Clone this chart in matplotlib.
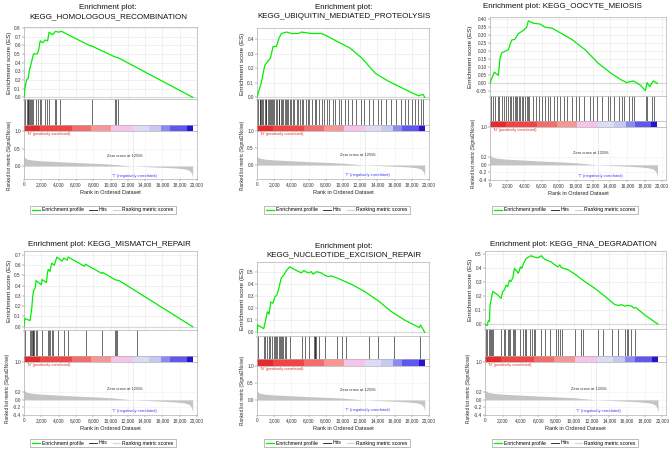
import matplotlib
matplotlib.use('Agg')
import matplotlib.pyplot as plt
from matplotlib.lines import Line2D

plt.rcParams['font.family'] = ['Liberation Sans', 'DejaVu Sans']

W, H = 669, 451

# ---------------- data ----------------
titles = [
    "Enrichment plot:\nKEGG_HOMOLOGOUS_RECOMBINATION",
    "Enrichment plot:\nKEGG_UBIQUITIN_MEDIATED_PROTEOLYSIS",
    "Enrichment plot: KEGG_OOCYTE_MEIOSIS",
    "Enrichment plot: KEGG_MISMATCH_REPAIR",
    "Enrichment plot:\nKEGG_NUCLEOTIDE_EXCISION_REPAIR",
    "Enrichment plot: KEGG_RNA_DEGRADATION",
]

hr_rank = [0, 100, 300, 500, 600, 800, 900, 1100, 1300, 1550, 1700, 1870, 2180, 2450, 2730, 2900,
           3300, 3630, 4000, 4330, 7700, 7750, 10400, 10700, 10900, 19500]
hr_es = [0, 0.1, 0.2, 0.22, 0.3, 0.38, 0.42, 0.5, 0.5, 0.5, 0.55, 0.65, 0.63, 0.66, 0.65, 0.75,
         0.72, 0.76, 0.75, 0.76, 0.59, 0.595, 0.47, 0.46, 0.455, 0]
hr_hits = [0, 117, 312, 429, 507, 624, 702, 819, 975, 1092, 1365, 1676, 1793, 1949, 2378, 2651,
           2846, 3548, 3704, 4211, 7914, 10565, 10682, 10838]

ub_rank = [0, 500, 900, 1290, 1560, 1870, 2260, 2570, 2850, 3430, 4000, 4800, 5200, 6350, 7500,
           7900, 9500, 10800, 12200, 13760, 15300, 16500, 18050, 18800, 19300, 19500]
ub_es = [0, 0.1, 0.22, 0.25, 0.27, 0.35, 0.35, 0.41, 0.44, 0.45, 0.44, 0.44, 0.45, 0.44, 0.44,
         0.43, 0.38, 0.34, 0.27, 0.165, 0.11, 0.075, 0.03, 0.01, 0.02, 0]
ub_hits = [50, 150, 300, 400, 500, 600, 750, 900, 1000, 1100, 1250, 1400, 1500, 1650, 1800, 1900,
           2000, 2200, 2350, 2500, 2600, 2750, 2900, 3000, 3200, 3350, 3500, 3600, 3800, 4000,
           4200, 4350, 4600, 4800, 5000, 5200, 5400, 5700, 5900, 6100, 6400, 6700, 6900, 7200,
           7500, 7800, 8100, 8400, 8800, 9100, 9500, 9800, 10200, 10600, 11000, 11500, 12100,
           12400, 13000, 13500, 14100, 14400, 15000, 15600, 16200, 16700, 17200, 17600, 18000,
           18400, 18700, 19100, 19300]

oo_rank = [0, 200, 500, 970, 1165, 1360, 1750, 2140, 2520, 2900, 3300, 3880, 4270, 4470, 5050,
           5830, 6400, 7200, 8350, 9500, 11070, 12620, 14170, 15340, 15920, 16700, 17480, 18100,
           18300, 18600, 19030, 19500]
oo_es = [0, 0.03, 0.07, 0.05, 0.155, 0.19, 0.2, 0.21, 0.27, 0.275, 0.31, 0.33, 0.35, 0.39, 0.375,
         0.37, 0.35, 0.345, 0.31, 0.275, 0.21, 0.125, 0.06, 0.02, 0.005, 0.015, -0.01, -0.045,
         0.005, -0.02, 0.015, 0]
oo_hits = [100, 300, 600, 900, 1100, 1400, 1600, 1900, 2100, 2300, 2500, 2700, 2900, 3000, 3200,
           3400, 3500, 3700, 3900, 4100, 4300, 4400, 4600, 5000, 5400, 5700, 6100, 6400, 6800,
           7000, 7400, 7800, 8200, 8600, 9000, 9500, 10000, 10400, 11000, 11600, 12000, 12500,
           13000, 13700, 14000, 14500, 15000, 15400, 15600, 16200, 16500, 16800, 18200, 18300,
           18900, 19100]

mm_rank = [0, 100, 700, 800, 900, 1000, 1100, 1300, 1400, 2000, 2100, 2600, 2700, 2800, 3000,
           3200, 3500, 3800, 4400, 4600, 5000, 5100, 7000, 7100, 9000, 9100, 10500, 10700, 11000,
           19500]
mm_es = [0, 0.08, 0.06, 0.12, 0.18, 0.29, 0.35, 0.38, 0.45, 0.41, 0.46, 0.43, 0.52, 0.56, 0.54,
         0.62, 0.60, 0.68, 0.64, 0.67, 0.65, 0.68, 0.59, 0.61, 0.52, 0.53, 0.46, 0.455, 0.45, 0]
mm_hits = [116, 695, 810, 927, 1004, 1081, 1197, 1351, 1467, 2123, 2741, 2896, 3012, 3205, 3320,
           3900, 4672, 5135, 7143, 8996, 10463, 10617, 10733, 13050]

ner_rank = [0, 100, 780, 970, 1200, 1400, 1600, 1860, 2060, 2330, 2520, 2830, 3100, 3420, 3800,
            4580, 5170, 5440, 5940, 6330, 6520, 6910, 7500, 7880, 8270, 8660, 9240, 10210, 11180,
            12540, 14100, 15650, 17200, 18870, 19030, 19500]
ner_es = [0, 0.06, 0.03, 0.09, 0.17, 0.15, 0.25, 0.24, 0.29, 0.31, 0.36, 0.45, 0.47, 0.51, 0.54,
          0.51, 0.49, 0.51, 0.49, 0.5, 0.48, 0.5, 0.49, 0.47, 0.46, 0.465, 0.45, 0.42, 0.39, 0.335,
          0.26, 0.17, 0.10, 0.04, 0.06, 0]
ner_hits = [116, 815, 971, 1204, 1398, 1553, 1748, 1981, 2136, 2252, 2369, 2524, 2641, 2757, 2913,
            3029, 3301, 3417, 3806, 5243, 5553, 6058, 6641, 6718, 6796, 6913, 7184, 7961, 9320,
            9903, 10291, 13049, 14097, 15961, 18951]

rna_rank = [0, 120, 230, 380, 500, 570, 680, 870, 1430, 1810, 2000, 2190, 2380, 2560, 2750, 2900,
            3130, 3320, 3620, 3770, 4000, 4150, 4340, 4640, 5020, 5210, 5580, 5960, 6340, 6720,
            7470, 7850, 8230, 8420, 8600, 9360, 10110, 11250, 12380, 13510, 14640, 15020, 15400,
            15770, 16150, 16400, 16530, 16790, 16980, 18040, 19500]
rna_es = [0, -0.005, -0.01, 0.025, 0.02, 0.14, 0.17, 0.235, 0.21, 0.185, 0.235, 0.245, 0.28, 0.27,
          0.315, 0.305, 0.33, 0.4, 0.375, 0.365, 0.41, 0.4, 0.435, 0.47, 0.485, 0.49, 0.48, 0.475,
          0.49, 0.465, 0.445, 0.425, 0.41, 0.425, 0.405, 0.39, 0.36, 0.305, 0.257, 0.2, 0.14,
          0.135, 0.14, 0.13, 0.135, 0.13, 0.13, 0.115, 0.12, 0.065, 0]
rna_hits = [113, 226, 415, 566, 679, 792, 943, 1811, 2113, 2302, 2566, 2755, 2868, 3132, 3321,
            3434, 3962, 4264, 4453, 4642, 5019, 5283, 5472, 5585, 6340, 6717, 7283, 8038, 8226,
            8415, 8717, 10113, 10868, 11057, 12755, 13321, 14264, 15019, 15774, 15962, 16151,
            16415, 16906]

metric_rank = [0, 50, 300, 1000, 2000, 4000, 6000, 8000, 10000, 12556, 14000, 16000, 17500,
               18500, 19000, 19250, 19400, 19500]
metric_val = [0.30, 0.25, 0.20, 0.17, 0.15, 0.125, 0.10, 0.08, 0.055, 0.0, -0.015, -0.035, -0.055,
              -0.08, -0.11, -0.16, -0.22, -0.34]
zero_cross = 12556

x_ticks = [0, 2000, 4000, 6000, 8000, 10000, 12000, 14000, 16000, 18000, 20000]
x_ticklabels = ["0", "2,000", "4,000", "6,000", "8,000", "10,000", "12,000", "14,000",
                "16,000", "18,000", "20,000"]

es_ticks = [
    [0.0, 0.1, 0.2, 0.3, 0.4, 0.5, 0.6, 0.7, 0.8],
    [0.0, 0.1, 0.2, 0.3, 0.4],
    [-0.05, 0.0, 0.05, 0.10, 0.15, 0.20, 0.25, 0.30, 0.35, 0.40],
    [0.0, 0.1, 0.2, 0.3, 0.4, 0.5, 0.6, 0.7],
    [0.0, 0.1, 0.2, 0.3, 0.4, 0.5],
    [0.0, 0.1, 0.2, 0.3, 0.4, 0.5],
]
rank_ticks_a = [0.0, 0.5, 1.0]
rank_ticks_b = [-0.4, -0.2, 0.0, 0.2, 1.0]

bar_edges = [0, 1850, 5500, 7800, 10100, 12600, 14400, 15800, 16900, 18800, 19500]

es_ranks = [hr_rank, ub_rank, oo_rank, mm_rank, ner_rank, rna_rank]
es_vals = [hr_es, ub_es, oo_es, mm_es, ner_es, rna_es]
hits_all = [hr_hits, ub_hits, oo_hits, mm_hits, ner_hits, rna_hits]

# ---------------- styles / layout ----------------
bar_colors = ['#e42a2a', '#ef4545', '#f46d6d', '#f89696', '#f6c4ea', '#dcdcf6', '#c8c8f6',
              '#8a8af2', '#5e58ee', '#2a12cf']

layouts = [
    dict(l=24, r=197, et=27, eb=99, hb=125, bb=131, rb=179, ey=(-0.02, 0.81), ry=(-0.37, 1.0),
         xmax=20000, tx=108, ty=12, lx=103, ly=210, fmt="%.1f", rt=rank_ticks_a),
    dict(l=257, r=429, et=28, eb=99, hb=125, bb=131, rb=179, ey=(-0.012, 0.478), ry=(-0.41, 1.0),
         xmax=20000, tx=344, ty=12, lx=337, ly=210, fmt="%.1f", rt=rank_ticks_a),
    dict(l=490, r=666, et=17, eb=96, hb=121, bb=127, rb=180, ey=(-0.079, 0.414), ry=(-0.4, 1.0),
         xmax=20500, tx=562, ty=7, lx=565, ly=210, fmt="%.2f", rt=rank_ticks_b),
    dict(l=24, r=197, et=251, eb=330, hb=356, bb=362, rb=415, ey=(-0.032, 0.739), ry=(-0.4, 1.0),
         xmax=20000, tx=109, ty=245, lx=103, ly=443, fmt="%.1f", rt=rank_ticks_b),
    dict(l=257, r=429, et=262, eb=336, hb=359, bb=366, rb=415, ey=(-0.03, 0.58), ry=(-0.44, 1.0),
         xmax=20000, tx=344, ty=250.5, lx=337, ly=443, fmt="%.1f", rt=rank_ticks_a),
    dict(l=485, r=666, et=251, eb=329, hb=356, bb=362, rb=415, ey=(-0.034, 0.524), ry=(-0.4, 1.0),
         xmax=20400, tx=573, ty=245, lx=565, ly=443, fmt="%.1f", rt=rank_ticks_b),
]

FRAME = '#b0b0b0'
GRID = '#e6e6e6'

fig = plt.figure(figsize=(W / 100, H / 100), dpi=100)
fig.patch.set_facecolor('white')


def rect(l, t, r, b):
    return [l / W, 1 - b / H, (r - l) / W, (b - t) / H]


def style_frame(ax):
    for s in ax.spines.values():
        s.set_color(FRAME)
        s.set_linewidth(0.5)


for i, L in enumerate(layouts):
    # ES axes
    ax = fig.add_axes(rect(L['l'], L['et'], L['r'], L['eb']))
    style_frame(ax)
    ax.set_xlim(0, L['xmax'])
    ax.set_ylim(*L['ey'])
    ax.set_xticks(x_ticks)
    ax.set_xticklabels([])
    ax.set_yticks(es_ticks[i])
    ax.set_yticklabels([L['fmt'] % v for v in es_ticks[i]])
    ax.grid(True, color=GRID, lw=0.4)
    ax.set_axisbelow(True)
    ax.axhline(0, color='#d8d8d8', lw=0.9, zorder=1)
    ax.tick_params(axis='both', length=1.2, width=0.3, colors='#555555', labelsize=3.4, pad=1)
    ax.tick_params(axis='y', labelcolor='#333333')
    ax.plot(es_ranks[i], es_vals[i], color='#00ee00', lw=0.9, zorder=3)
    ax.set_ylabel("Enrichment score (ES)", fontsize=4.5, labelpad=2, color='#222222')

    # hits
    axh = fig.add_axes(rect(L['l'], L['eb'], L['r'], L['hb']))
    style_frame(axh)
    axh.set_xlim(0, L['xmax'])
    axh.set_ylim(0, 1)
    axh.set_xticks([])
    axh.set_yticks([])
    axh.vlines(hits_all[i], 0, 1, color='#1a1a1a', lw=0.45)

    # colour bar
    axb = fig.add_axes(rect(L['l'], L['hb'], L['r'], L['bb']))
    style_frame(axb)
    axb.set_xlim(0, L['xmax'])
    axb.set_ylim(0, 1)
    axb.set_xticks([])
    axb.set_yticks([])
    segs = [(bar_edges[k], bar_edges[k + 1] - bar_edges[k]) for k in range(len(bar_colors))]
    axb.broken_barh(segs, (0, 1), facecolors=bar_colors, edgecolor='none')

    # ranked metric
    axr = fig.add_axes(rect(L['l'], L['bb'], L['r'], L['rb']))
    style_frame(axr)
    axr.set_xlim(0, L['xmax'])
    axr.set_ylim(*L['ry'])
    axr.set_xticks(x_ticks)
    axr.set_xticklabels(x_ticklabels)
    axr.set_yticks(L['rt'])
    axr.set_yticklabels(["%.1f" % v for v in L['rt']])
    axr.grid(True, color='#efefef', lw=0.4)
    axr.set_axisbelow(True)
    axr.tick_params(axis='both', length=1.2, width=0.3, colors='#555555', labelsize=3.4, pad=1)
    axr.tick_params(axis='both', labelcolor='#333333')
    axr.fill_between(metric_rank, 0, metric_val, color='#c4c4c4', lw=0, zorder=2)
    axr.axvline(zero_cross, color='#bbbbbb', lw=0.4, ls=(0, (1.5, 1.5)), zorder=1)
    axr.text(300, L['ry'][1] - 0.02, "'N' (positively correlated)", color='#e03030',
             fontsize=2.9, ha='left', va='top')
    axr.text(11700, 0.30, "Zero cross at %d" % zero_cross, color='#333333', fontsize=2.9,
             ha='center', va='center')
    axr.text(12800, -0.29, "'T' (negatively correlated)", color='#3a3aff', fontsize=2.9,
             ha='center', va='center')
    axr.set_xlabel("Rank in Ordered Dataset", fontsize=4.0, labelpad=2, color='#222222')
    axr.set_ylabel("Ranked list metric (Signal2Noise)", fontsize=3.3, labelpad=2,
                   color='#222222')

    # title
    fig.text(L['tx'] / W, 1 - L['ty'] / H, titles[i], ha='center', va='center', fontsize=5.8,
             linespacing=1.35, color='#111111')

    # legend
    handles = [Line2D([], [], color='#00ee00', lw=0.9),
               Line2D([], [], color='#111111', lw=0.6),
               Line2D([], [], color='#d4d4d4', lw=0.8)]
    leg = fig.legend(handles, ["Enrichment profile", "Hits", "Ranking metric scores"],
                     loc='center', bbox_to_anchor=(L['lx'] / W, 1 - L['ly'] / H), ncol=3,
                     fontsize=3.7, frameon=True, fancybox=False, handlelength=1.5,
                     handletextpad=0.4, columnspacing=1.0, borderpad=0.35)
    leg.get_frame().set_edgecolor('#888888')
    leg.get_frame().set_linewidth(0.5)

fig.savefig('out.png', dpi=100, facecolor='white')
